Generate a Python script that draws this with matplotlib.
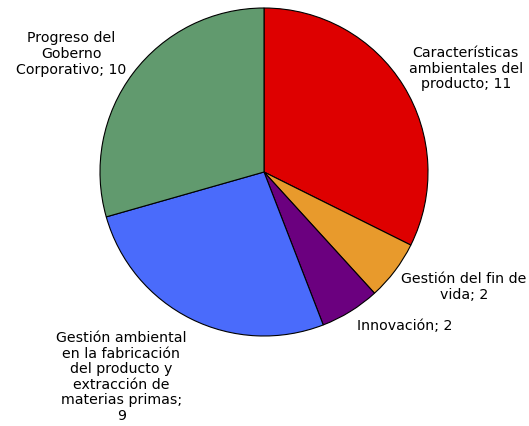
import numpy as np
import matplotlib.pyplot as plt

categorias = ['Características\nambientales del\nproducto; 11',
              'Gestión del fin de\nvida; 2',
              'Innovación; 2',
              'Gestión ambiental\nen la fabricación\ndel producto y\nextracción de\nmaterias primas;\n9',
              'Progreso del\nGoberno\nCorporativo; 10']
valores = [11, 2, 2, 9, 10]
colores = ['#DE0000', '#E89A2C', '#6B007F', '#4A6BFB', '#619A6E']

# posiciones de las etiquetas (en radios)
pos_etiquetas = [(1.23, 0.63), (1.22, -0.70), (0.86, -0.94), (-0.87, -1.25), (-1.175, 0.72)]

fig = plt.figure(figsize=(5.29, 4.26), dpi=100)
ax = fig.add_axes([100 / 529, (426 - 336) / 426, 328 / 529, 328 / 426])

ax.pie(valores, colors=colores, startangle=90, counterclock=False,
       wedgeprops=dict(edgecolor='black', linewidth=0.8))

for texto, (x, y) in zip(categorias, pos_etiquetas):
    ax.text(x, y, texto, ha='center', va='center', fontsize=10.2,
            linespacing=1.15, color='black')

ax.set_xlim(-1, 1)
ax.set_ylim(-1, 1)
ax.set_aspect('equal')
ax.axis('off')

plt.savefig('out.png', dpi=100)
